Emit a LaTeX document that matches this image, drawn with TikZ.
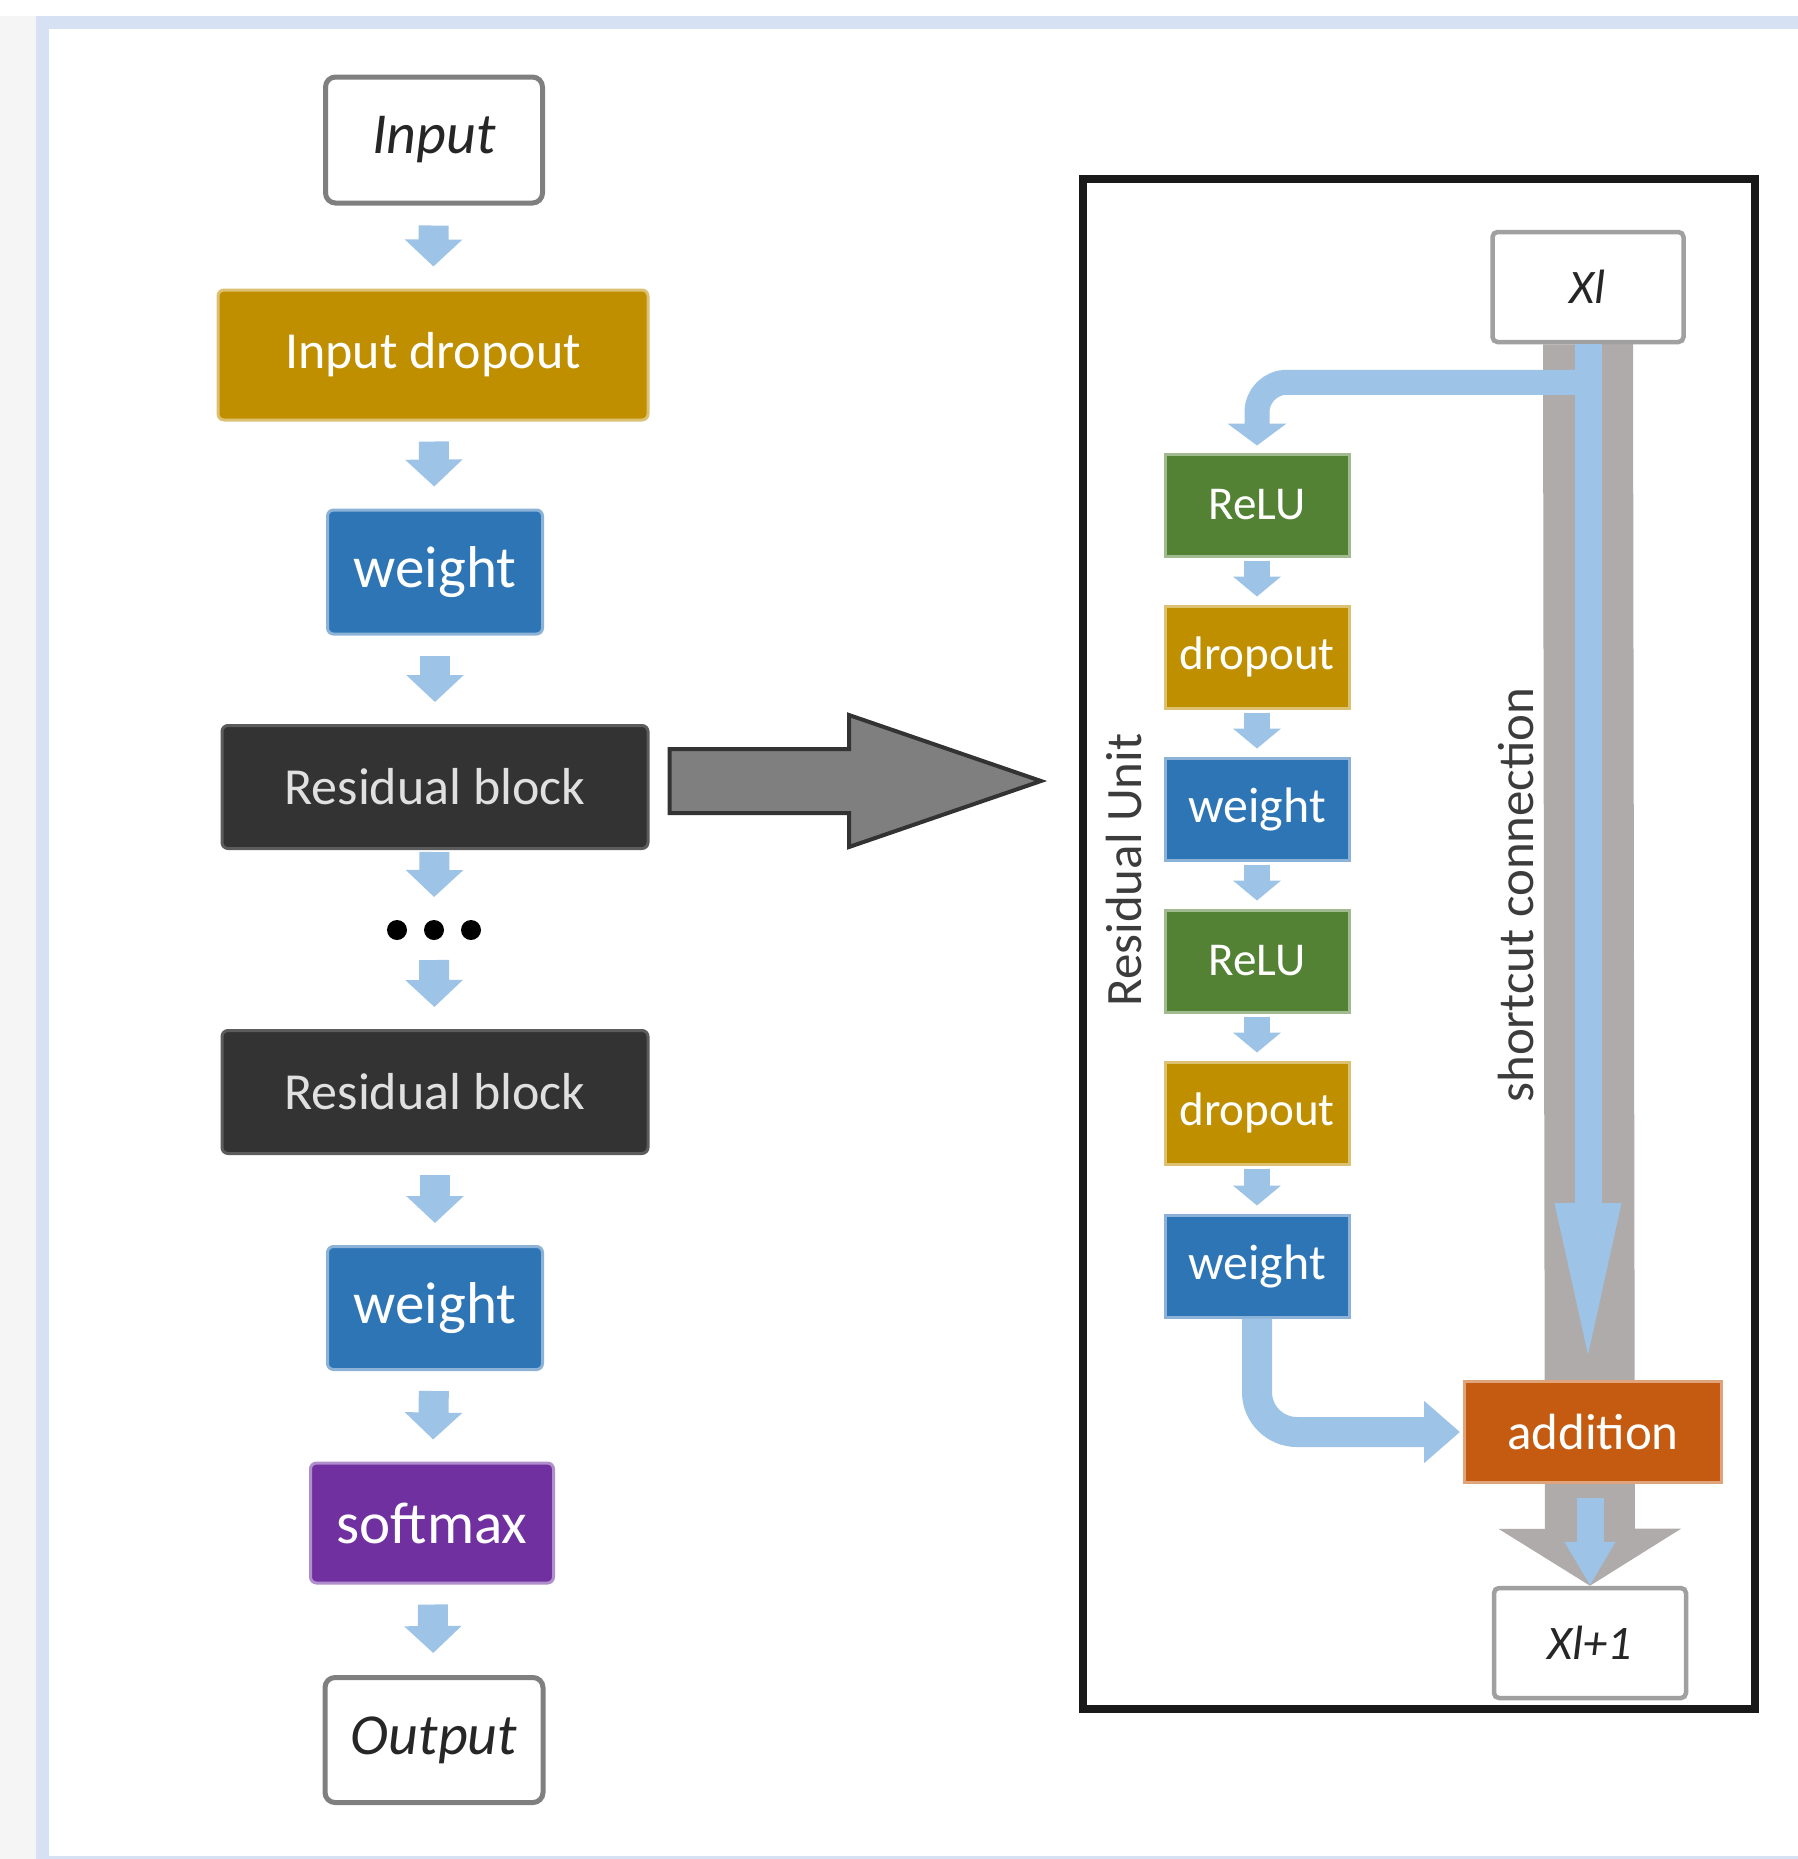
\documentclass[tikz,border=0pt]{standalone}
\usepackage{fontspec}
\setmainfont{Carlito}
\usetikzlibrary{positioning,arrows.meta,calc,backgrounds}
\definecolor{cgold}{HTML}{BF8F00}
\definecolor{cblue}{HTML}{2E75B6}
\definecolor{cgreen}{HTML}{548235}
\definecolor{cpurple}{HTML}{7030A0}
\definecolor{corange}{HTML}{C55A11}
\definecolor{cdark}{HTML}{333333}
\definecolor{carrow}{HTML}{9DC3E6}
\definecolor{cbar}{HTML}{AFABAB}
\definecolor{cframe}{HTML}{D6E1F3}
\definecolor{cedge}{HTML}{7F7F7F}
\definecolor{cxedge}{HTML}{A0A0A0}
\definecolor{ctext}{HTML}{262626}
\tikzset{lbox/.style={rectangle, rounded corners=0.6mm, inner sep=0pt, align=center, text=white, line width=0.3mm}}
\tikzset{iobox/.style={lbox, draw=cedge, fill=white, text=ctext, line width=0.5mm, rounded corners=1mm, minimum width=21.7mm, minimum height=12.6mm, font=\fontsize{16.5pt}{18pt}\selectfont\itshape}}
\tikzset{golbox/.style={lbox, fill=cgold, draw=cgold!55!white}}
\tikzset{blubox/.style={lbox, fill=cblue, draw=cblue!55!white}}
\tikzset{grnbox/.style={lbox, fill=cgreen, draw=cgreen!55!white}}
\tikzset{purbox/.style={lbox, fill=cpurple, draw=cpurple!55!white}}
\tikzset{orgbox/.style={lbox, fill=corange, draw=corange!55!white}}
\tikzset{resbox/.style={lbox, fill=cdark, draw=cdark!80!white, text=white!88!black, minimum width=42.6mm, minimum height=12.3mm, font=\fontsize{14.8pt}{16pt}\selectfont}}
\tikzset{rbox/.style={minimum width=18.4mm, minimum height=10.2mm, rounded corners=0pt, font=\fontsize{13.4pt}{15pt}\selectfont}}
\tikzset{xbox/.style={lbox, draw=cxedge, fill=white, text=ctext, line width=0.45mm, rounded corners=0.5mm, minimum width=19.1mm, minimum height=11mm, font=\fontsize{13.7pt}{15pt}\selectfont\itshape}}
\tikzset{larr/.style={draw=carrow, line width=3mm, -{Triangle[length=2.7mm,width=5.6mm]}, shorten <=2mm, shorten >=2.2mm}}
\tikzset{rarr/.style={draw=carrow, line width=2.6mm, -{Triangle[length=2mm,width=4.7mm]}, shorten <=0.3mm, shorten >=0.8mm}}
\tikzset{sarr/.style={draw=carrow, line width=2.7mm}}
\tikzset{sidelabel/.style={rotate=90, text=ctext!90!white, font=\fontsize{14.5pt}{16pt}\selectfont}}

\begin{document}
\begin{tikzpicture}[x=0.1mm, y=-0.1mm]
  \clip (0,0) rectangle (1798,1859);
  \fill[black!4] (0,16) rectangle (36,1859);
  \draw[cframe, line width=1.3mm] (42,22) rectangle (1860,1862);

  % main network
  \node[iobox] (inp) at (434,140) {Input};
  \node[golbox, minimum width=43mm, minimum height=13mm, font=\fontsize{14.8pt}{16pt}\selectfont] (indrop) at (433,355) {Input dropout};
  \node[blubox, minimum width=21.5mm, minimum height=12.4mm, font=\fontsize{16.8pt}{18pt}\selectfont] (w1) at (435,572) {weight};
  \node[resbox] (res1) at (435,787) {Residual block};
  \coordinate (dtop) at (434,912);
  \coordinate (dbot) at (434,948);
  \node[resbox] (res2) at (435,1092) {Residual block};
  \node[blubox, minimum width=21.5mm, minimum height=12.3mm, font=\fontsize{16.8pt}{18pt}\selectfont] (w2) at (435,1308) {weight};
  \node[purbox, minimum width=24.3mm, minimum height=12mm, font=\fontsize{16.8pt}{18pt}\selectfont] (soft) at (432,1523) {softmax};
  \node[iobox, minimum width=21.8mm, minimum height=12.5mm] (outp) at (434,1740) {Output};

  \foreach \dx in {-37,0,37}
    \fill[black] (434+\dx,930) circle (1mm);

  \draw[larr] (inp) -- (indrop);
  \draw[larr] (indrop) -- (w1);
  \draw[larr] (w1) -- (res1);
  \draw[larr, shorten <=0.2mm, shorten >=1.5mm] (res1) -- (dtop);
  \draw[larr, shorten <=1.2mm] (dbot) -- (res2);
  \draw[larr] (res2) -- (w2);
  \draw[larr] (w2) -- (soft);
  \draw[larr] (soft) -- (outp);

  % residual unit
  \node[draw=black!90, line width=0.8mm, minimum width=67.2mm, minimum height=153mm, inner sep=0pt] (panel) at (1419,944) {};

  \coordinate (bigS) at ($(res1.east)+(20,-6)$);
  \coordinate (bigT) at ($(bigS -| panel.west)+(-38,0)$);
  \draw[draw=cdark, fill=cedge, line width=0.4mm, line join=miter]
    ($(bigS)+(0,-32)$) -- ($(bigT)+(-192,-32)$) -- ($(bigT)+(-192,-66)$) -- (bigT)
    -- ($(bigT)+(-192,66)$) -- ($(bigT)+(-192,32)$) -- ($(bigS)+(0,32)$) -- cycle;

  \node[xbox] (xl) at (1588,287) {Xl};
  \node[grnbox, rbox] (relu1) at (1257,505) {ReLU};
  \node[golbox, rbox] (drop1) at (1257,657) {dropout};
  \node[blubox, rbox, font=\fontsize{14.2pt}{16pt}\selectfont] (wr1) at (1257,809) {weight};
  \node[grnbox, rbox] (relu2) at (1257,961) {ReLU};
  \node[golbox, rbox] (drop2) at (1257,1113) {dropout};
  \node[blubox, rbox, font=\fontsize{14.2pt}{16pt}\selectfont] (wr2) at (1257,1266) {weight};
  \node[orgbox, minimum width=25.7mm, minimum height=10.1mm, rounded corners=0pt, font=\fontsize{14.5pt}{16pt}\selectfont] (add) at (1593,1432) {addition};
  \node[xbox, minimum width=19.2mm] (xl1) at (1590,1643) {Xl+1};

  \node[sidelabel] (runit) at (1124,870) {Residual Unit};
  \node[sidelabel] (scut) at (1516,895) {shortcut connection};

  \draw[rarr] (relu1) -- (drop1);
  \draw[rarr] (drop1) -- (wr1);
  \draw[rarr] (wr1) -- (relu2);
  \draw[rarr] (relu2) -- (drop2);
  \draw[rarr] (drop2) -- (wr2);

  \begin{scope}[on background layer]
    \draw[cbar, line width=9mm, -{Triangle[length=5.7mm,width=18mm]}] (xl.south) -- (xl1.north);
  \end{scope}

  \draw[sarr, -{Triangle[length=16.9mm,width=5.8mm]}, shorten >=0.8mm] (xl.south) -- (xl.south |- add.north);
  \coordinate (split) at ($(xl.south)+(0,38)$);
  \draw[carrow, line width=2.5mm, rounded corners=3mm, -{Triangle[length=2.2mm,width=5.8mm]}, shorten >=0.7mm] (split) -- (split -| relu1.north) -- (relu1.north);
  \draw[carrow, line width=3mm, rounded corners=4mm, -{Triangle[length=3.6mm,width=6mm]}, shorten >=0.3mm] (wr2.south) |- (add.west);
  \draw[sarr, -{Triangle[length=4.4mm,width=4.8mm]}, shorten <=1.4mm] (xl1.north |- add.south) -- (xl1.north);
\end{tikzpicture}
\end{document}
